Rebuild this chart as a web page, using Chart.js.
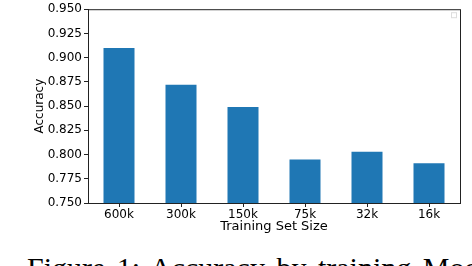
<!DOCTYPE html>
<html>
<head>
<meta charset="utf-8">
<script src="https://cdn.jsdelivr.net/npm/chart.js@4.4.0/dist/chart.umd.min.js"></script>
<style>
  html, body { margin: 0; padding: 0; background: #fff; }
  #wrap { position: relative; width: 472px; height: 266px; overflow: hidden; }
  #chart { position: absolute; left: 0; top: 0; }
  #caption {
    position: absolute; left: 27px; top: 253px;
    font-family: 'Liberation Serif', 'DejaVu Serif', serif;
    font-size: 30px; line-height: 30px; white-space: nowrap; color: #000;
    word-spacing: 4px;
  }
</style>
</head>
<body>
<div id="wrap">
  <canvas id="chart" width="472" height="240"></canvas>
  <div id="caption">Figure 1: Accuracy by training Model size</div>
</div>
<script>
// training set sizes and accuracy
const sizes = ['600k', '300k', '150k', '75k', '32k', '16k'];
const accuracy = [0.910, 0.872, 0.849, 0.795, 0.803, 0.791];
const yTicks = [0.750, 0.775, 0.800, 0.825, 0.850, 0.875, 0.900, 0.925, 0.950];

const BAR = '#1f77b4';
const FONT = 'DejaVu Sans';

// matplotlib style frame around plot area + empty legend box
const frame = {
    id: 'frame',
    afterDraw(chart) {
        const a = chart.chartArea;
        const ctx = chart.ctx;
        ctx.save();
        ctx.strokeStyle = '#222';
        ctx.lineWidth = 1;
        ctx.strokeRect(a.left + 0.5, a.top + 0.5, a.right - a.left, a.bottom - a.top);
        ctx.strokeStyle = '#ddd';
        ctx.strokeRect(a.right - 8.5, a.top + 3.5, 5, 5);
        ctx.restore();
    }
};

new Chart(document.getElementById('chart').getContext('2d'), {
    type: 'bar',
    data: {
        labels: sizes,
        datasets: [{
            data: accuracy,
            backgroundColor: BAR,
            borderWidth: 0,
            barPercentage: 0.5,
            categoryPercentage: 1.0
        }]
    },
    options: {
        responsive: false,
        devicePixelRatio: 1,
        animation: false,
        layout: { padding: { left: 0, right: 12, top: 7, bottom: 0 } },
        plugins: { legend: { display: false }, tooltip: { enabled: false } },
        scales: {
            x: {
                grid: { drawOnChartArea: false, offset: false, tickLength: 4, color: '#222' },
                border: { color: '#222' },
                ticks: { color: '#000', font: { family: FONT, size: 12 }, padding: 1, maxRotation: 0 },
                title: { display: true, text: 'Training Set Size', color: '#000', font: { family: FONT, size: 13 }, padding: { top: 0, bottom: 6 } },
                afterFit: (s) => { s.height = 37; }
            },
            y: {
                min: 0.75,
                max: 0.95,
                afterBuildTicks: (s) => { s.ticks = yTicks.map(v => ({ value: v })); },
                grid: { drawOnChartArea: false, tickLength: 4, color: '#222' },
                border: { color: '#222' },
                ticks: { color: '#000', font: { family: FONT, size: 12 }, padding: 2, callback: (v) => Number(v).toFixed(3) },
                title: { display: true, text: 'Accuracy', color: '#000', font: { family: FONT, size: 12 }, padding: { top: 33, bottom: 0 } },
                afterFit: (s) => { s.width = 88; }
            }
        }
    },
    plugins: [frame]
});
</script>
</body>
</html>
